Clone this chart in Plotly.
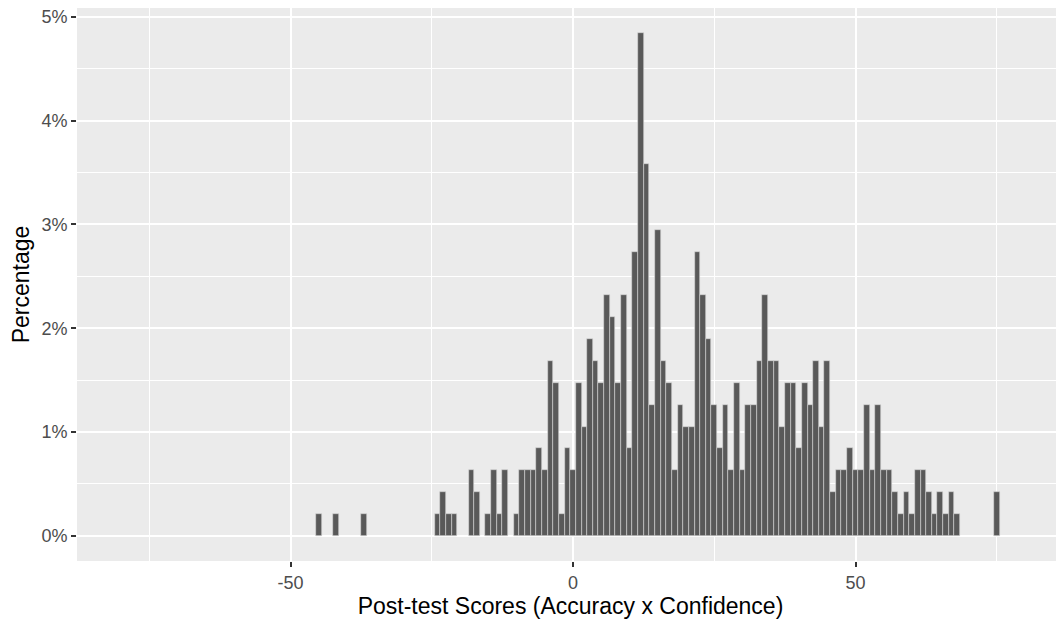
import plotly.graph_objects as go

scores = [-45, -42, -37, -24, -23, -22, -21, -18, -17, -15, -14, -13, -12, -10,
          -9, -8, -7, -6, -5, -4, -3, -2, -1,
          0, 1, 2, 3, 4, 5, 6, 7, 8, 9, 10, 11,
          12, 13, 14, 15, 16, 17, 18, 19, 20, 21, 22, 23, 24, 25, 26, 27, 28, 29, 30, 31, 32, 33,
          34, 35, 36, 37, 38, 39, 40, 41, 42, 43, 44, 45, 46, 47, 48, 49, 50, 51, 52, 53, 54,
          55, 56, 57, 58, 59, 60, 61, 62, 63, 64, 65, 66, 67, 68, 75]
counts = [1, 1, 1, 1, 2, 1, 1, 3, 2, 1, 3, 1, 3, 1,
          3, 3, 3, 4, 3, 8, 7, 1, 4,
          3, 7, 5, 9, 8, 7, 11, 10, 7, 11, 4, 13,
          23, 17, 6, 14, 8, 7, 3, 6, 5, 5, 13, 11, 9, 6, 4, 6, 3, 7, 3, 6, 6, 8,
          11, 8, 8, 5, 7, 7, 4, 7, 6, 8, 5, 8, 2, 3, 3, 4, 3, 3, 6, 3, 6,
          3, 3, 2, 1, 2, 1, 3, 3, 2, 1, 2, 1, 2, 1, 2]
x_ticks = [-50, 0, 50]
y_ticks = [0, 1, 2, 3, 4, 5]
y_labels = ["0%", "1%", "2%", "3%", "4%", "5%"]

total = sum(counts)
pct = [c / total * 100 for c in counts]

fig = go.Figure(go.Bar(
    x=scores, y=pct, width=1,
    marker=dict(color="#595959", line=dict(color="#d9d9d9", width=0.6)),
))

font = "Liberation Sans, Arial, sans-serif"
fig.update_layout(
    width=1056, height=611,
    margin=dict(l=69, r=0, t=0, b=58),
    paper_bgcolor="white", plot_bgcolor="#EBEBEB",
    bargap=0, showlegend=False,
    font=dict(family=font, color="#4D4D4D"),
)
fig.update_xaxes(
    range=[-87.8, 86.9], tickvals=x_ticks, ticktext=[str(v) for v in x_ticks],
    showgrid=True, gridcolor="white", gridwidth=1.6,
    minor=dict(dtick=25, tick0=0, showgrid=True, gridcolor="white", gridwidth=0.8),
    ticks="outside", ticklen=5, tickwidth=1.5, tickcolor="#333333",
    tickfont=dict(size=18, color="#4D4D4D"), ticklabeloverflow="allow",
    title=dict(text="Post-test Scores (Accuracy x Confidence)", font=dict(size=23, color="black"), standoff=4),
    zeroline=False, showline=False,
)
fig.update_yaxes(
    range=[-0.242, 5.085], tickvals=y_ticks, ticktext=y_labels,
    showgrid=True, gridcolor="white", gridwidth=1.6,
    minor=dict(dtick=0.5, tick0=0, showgrid=True, gridcolor="white", gridwidth=0.8),
    ticks="outside", ticklen=5, tickwidth=1.5, tickcolor="#333333",
    tickfont=dict(size=18, color="#4D4D4D"), ticklabeloverflow="allow",
    title=dict(text="Percentage", font=dict(size=23, color="black"), standoff=8),
    zeroline=False, showline=False,
)
fig.write_html("out.html")
